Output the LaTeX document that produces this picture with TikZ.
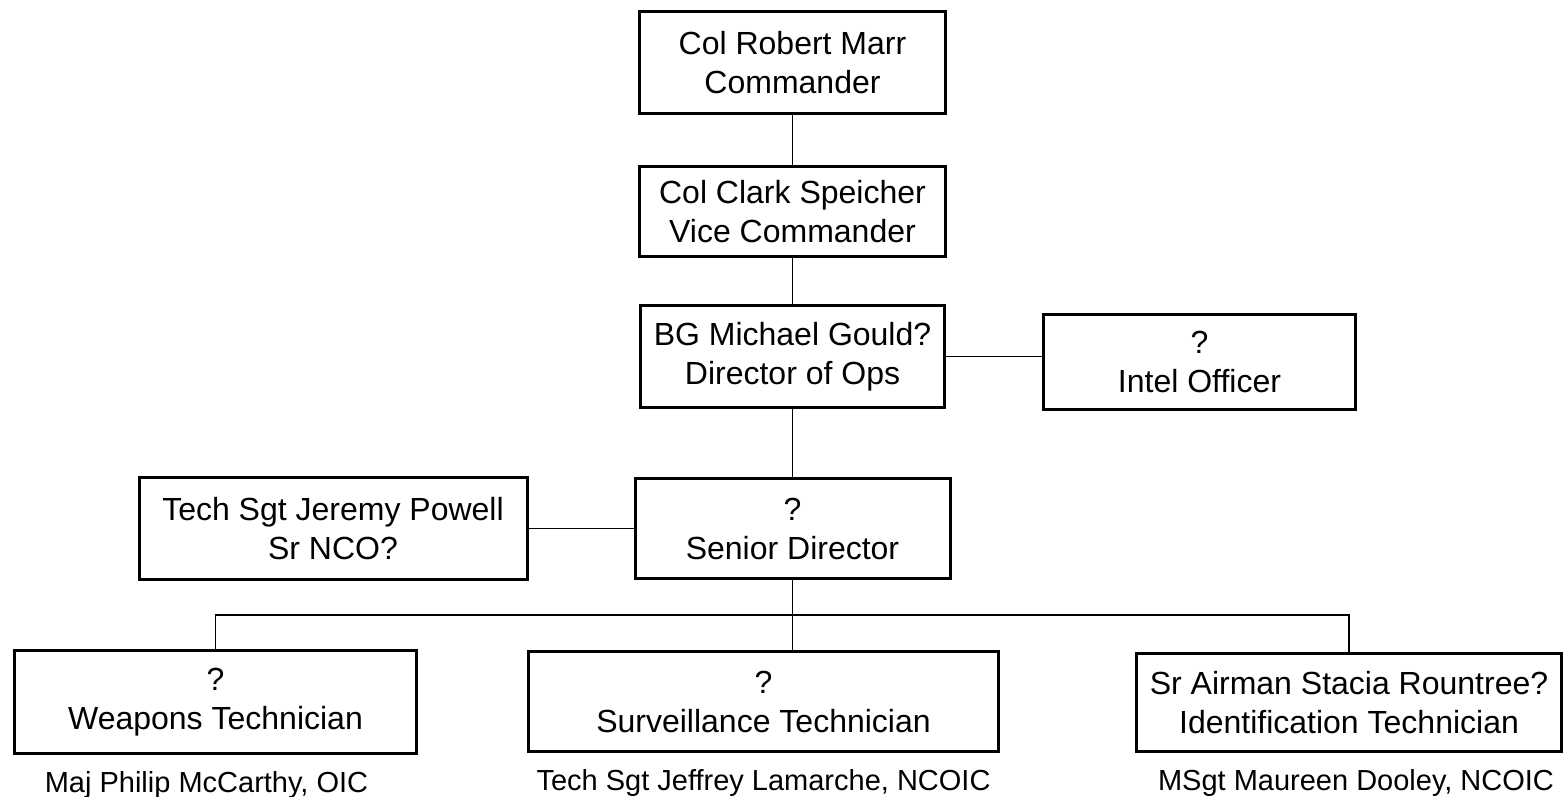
\documentclass[tikz,border=0pt]{standalone}
\usepackage{fontspec}
\setmainfont{Liberation Sans}
\usepackage{tikz}
\usetikzlibrary{positioning}
\usetikzlibrary{calc}

\tikzset{
  post/.style={draw, line width=3pt, align=center, inner sep=0pt,
    font=\fontsize{32}{39}\selectfont},
  link/.style={draw, line width=1.6pt},
  oic/.style={inner sep=0pt, font=\fontsize{29}{34}\selectfont}
}

\begin{document}
\begin{tikzpicture}[x=1pt,y=1pt]

\useasboundingbox (0,0) rectangle (1566,-797);

%C: command chain
\node[post, minimum width=306pt, minimum height=102pt] (cmd) at (792.5,-62.5)
  {Col Robert Marr\\Commander};
\node[post, minimum width=306pt, minimum height=90pt, below=50pt of cmd] (vcmd)
  {Col Clark Speicher\\Vice Commander};
\node[post, minimum width=304pt, minimum height=102pt, below=46pt of vcmd] (dop)
  {BG Michael Gould?\\Director of Ops};
\node[post, minimum width=312pt, minimum height=95pt, right=96pt of dop, yshift=-5.5pt] (intl)
  {?\\Intel Officer};

%C: senior director and his NCO
\node[post, minimum width=315pt, minimum height=100pt, below=68pt of dop] (sd)
  {?\\Senior Director};
\node[post, minimum width=388pt, minimum height=102pt, left=105pt of sd] (nco)
  {Tech Sgt Jeremy Powell\\Sr NCO?};

%T: technicians
\node[post, minimum width=402pt, minimum height=103pt] (wt) at (215.5,-702)
  {?\\Weapons Technician};
\node[post, minimum width=470pt, minimum height=100pt] (st) at (763.5,-701.5)
  {?\\Surveillance Technician};
\node[post, minimum width=425pt, minimum height=98pt] (it) at (1349,-702.5)
  {Sr Airman Stacia Rountree?\\Identification Technician};

% in charge, under each box
\node[oic, below=16pt of wt, xshift=-9pt] (wtc) {Maj Philip McCarthy, OIC};
\node[oic, below=16pt of st] (stc) {Tech Sgt Jeffrey Lamarche, NCOIC};
\node[oic, below=16pt of it, xshift=7pt] (itc) {MSgt Maureen Dooley, NCOIC};

% links
\path[link]
  (cmd) edge (vcmd)
  (vcmd) edge (dop)
  (dop) edge (sd)
  (dop) edge (dop -| intl.west)
  (nco) edge (sd)
;

\coordinate (bus) at ($(sd.south)!0.5!(st.north)$);
\draw[link] (sd.south) -- (sd.south |- st.north);
\draw[link] (wt.north) |- (bus) -| (it.north);

\end{tikzpicture}
\end{document}
